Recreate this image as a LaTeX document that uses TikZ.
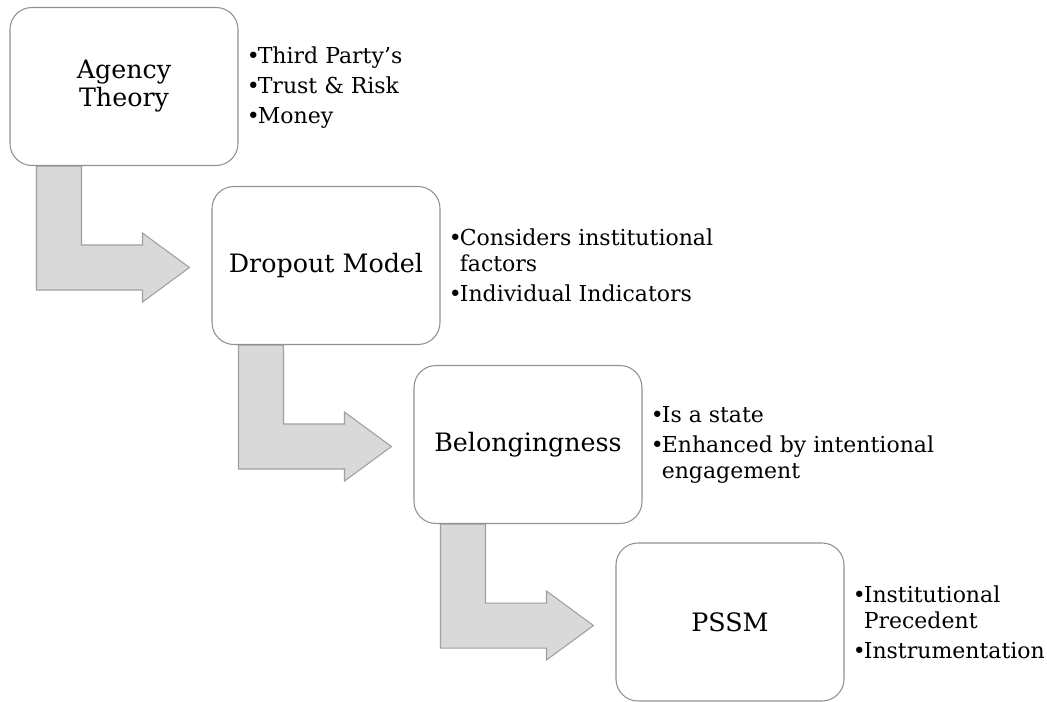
\documentclass[tikz,border=0pt]{standalone}
\usepackage{fontspec}
\setmainfont{DejaVu Serif}
\usetikzlibrary{calc,backgrounds}
\definecolor{boxline}{RGB}{145,145,145}
\definecolor{arrowfill}{RGB}{217,217,217}
\definecolor{arrowline}{RGB}{160,160,160}
\newcommand{\bul}{\makebox[8.25pt][l]{•}}
\newcommand{\ind}{\hspace*{8.25pt}}
\tikzset{
  stagebox/.style={draw=boxline, line width=0.8pt, fill=white, rounded corners=16.5pt,
    minimum width=171pt, minimum height=118.5pt, inner sep=0pt, align=center,
    font=\fontsize{19pt}{21pt}\selectfont},
  notes/.style={anchor=west, inner sep=0pt, align=left,
    font=\fontsize{16.5pt}{19.5pt}\selectfont},
  bentarrow/.style={draw=arrowline, line width=0.8pt, fill=arrowfill, line join=miter}
}
\begin{document}
\begin{tikzpicture}[x=0.75pt,y=-0.75pt]
\useasboundingbox (0,0) rectangle (1047,702);
\node[stagebox] (b1) at (124,86.5) {Agency\\Theory};
\node[stagebox] (b2) at (326,265.5) {Dropout Model};
\node[stagebox] (b3) at (528,444.5) {Belongingness};
\node[stagebox] (b4) at (730,622) {PSSM};

\node[notes] (t1) at ($(b1.east)+(8,1.5)$) {\bul Third Party’s\\[3pt]\bul Trust \& Risk\\[3pt]\bul Money};
\node[notes] (t2) at ($(b2.east)+(8,0)$) {\bul Considers institutional\\\ind factors\\[3pt]\bul Individual Indicators};
\node[notes] (t3) at ($(b3.east)+(8,0)$) {\bul Is a state\\[3pt]\bul Enhanced by intentional\\\ind engagement};
\node[notes] (t4) at ($(b4.east)+(8,0)$) {\bul Institutional\\\ind Precedent\\[3pt]\bul Instrumentation};

\begin{scope}[on background layer]
\foreach \a/\b in {b1/b2,b2/b3,b3/b4}{
  \draw[bentarrow] ($(\a.south west)+(27,0)$) -- ++(0,124) -- ++(106,0) -- ++(0,12)
    -- ++(47,-34.5) -- ++(-47,-34.5) -- ++(0,12) -- ++(-61,0) -- ++(0,-79) -- cycle;
}
\end{scope}
\end{tikzpicture}
\end{document}
